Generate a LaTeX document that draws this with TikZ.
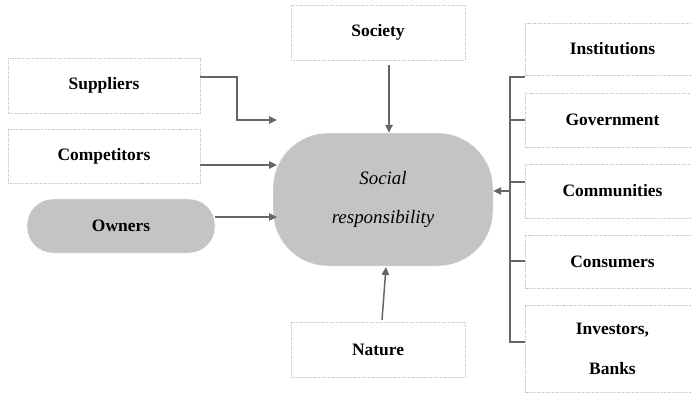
\documentclass[tikz,border=0pt]{standalone}
\usepackage{fontspec}
\setmainfont{Liberation Serif}
\usetikzlibrary{arrows.meta}
\definecolor{fillgray}{HTML}{C4C4C4}
\definecolor{linegray}{HTML}{666666}
\definecolor{boxgray}{HTML}{C8C8C8}
\tikzset{
  lbl/.style={font=\fontsize{17.5}{40}\selectfont\bfseries, text=black, align=center, inner sep=0pt},
  dbox/.style={lbl, draw=boxgray, line width=0.8pt, dash pattern=on 1.5pt off 1pt, fill=white},
  pill/.style={lbl, draw=white, fill=fillgray, rounded corners=26bp},
  arr/.style={draw=linegray, line width=1.5pt, -{Triangle[length=8pt,width=7.5pt]}},
  ln/.style={draw=linegray, line width=1.5pt},
}
\begin{document}
\begin{tikzpicture}[x=1bp,y=-1bp]
\useasboundingbox (0,0) rectangle (691,394);
% left
\node[dbox, minimum width=192bp, minimum height=55bp] (sup) at (104,85.5) {Suppliers};
\node[dbox, minimum width=192bp, minimum height=54bp] (com) at (104,156) {Competitors};
\node[pill, minimum width=188bp, minimum height=54bp] (own) at (121,226) {Owners};
% top/bottom
\node[dbox, minimum width=174bp, minimum height=55bp] (soc) at (378,32.5) {Society};
\node[dbox, minimum width=174bp, minimum height=55bp] (nat) at (378,349.5) {Nature};
% center
\node[draw=white, fill=fillgray, rounded corners=55bp, minimum width=220bp, minimum height=133bp,
      font=\fontsize{19}{40}\selectfont\itshape, align=center, inner sep=0pt] (cen) at (383,199.5) {Social\\responsibility};
% right
\node[dbox, minimum width=175bp, minimum height=52bp] (ins) at (612.5,49) {Institutions};
\node[dbox, minimum width=175bp, minimum height=54bp] (gov) at (612.5,120) {Government};
\node[dbox, minimum width=175bp, minimum height=54bp] (cmm) at (612.5,191) {Communities};
\node[dbox, minimum width=175bp, minimum height=53bp] (cns) at (612.5,261.5) {Consumers};
\node[dbox, minimum width=175bp, minimum height=87bp] (inv) at (612.5,348.5) {Investors,\\Banks};
% connectors
\coordinate (s1) at (277,120);
\coordinate (c1) at (277,165);
\coordinate (o1) at (277,217);
\draw[arr] (sup.east |- 0,77) -- (237,77) |- (s1);
\draw[arr] (com.east |- 0,165) -- (c1);
\draw[arr] (own.east |- 0,217) -- (o1);
\coordinate (st) at (389,65);
\draw[arr] (st) -- (st |- cen.north);
\coordinate (nt) at (382,320);
\coordinate (nh) at (386,267);
\draw[arr] (nt) -- (nh);
% bracket
\coordinate (b1) at (510,77);
\coordinate (b2) at (510,342);
\coordinate (bm) at (510,191);
\draw[ln] (ins.west |- b1) -- (b1) -- (b2) -- (inv.west |- b2);
\draw[ln] (b1 |- 0,120) -- (gov.west |- 0,120);
\draw[ln] (b1 |- 0,182) -- (cmm.west |- 0,182);
\draw[ln] (b1 |- 0,261) -- (cns.west |- 0,261);
\draw[arr] (bm) -- (cen.east |- bm);
\end{tikzpicture}
\end{document}
